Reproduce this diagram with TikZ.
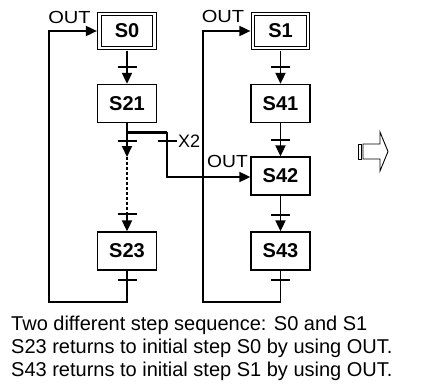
\documentclass[tikz,border=0pt]{standalone}
\usepackage{fontspec}
\usepackage{graphicx}
\setmainfont{Liberation Sans}
\usetikzlibrary{arrows.meta}
\begin{document}
\begin{tikzpicture}[x=1pt,y=-1pt,
  box/.style={draw, line width=1.3pt, minimum width=59pt, minimum height=38pt, inner sep=0pt,
    font=\fontsize{20}{24}\selectfont\bfseries},
  initbox/.style={draw, line width=1.2pt, double, double distance=2.5pt, minimum width=55pt,
    minimum height=34pt, inner sep=0pt, outer sep=2.6pt, font=\fontsize{20}{24}\selectfont\bfseries},
  conn/.style={line width=1.8pt},
  arr/.style={conn, -{Triangle[length=11pt,width=10pt]}},
  tk/.style={line width=1.8pt},
  dotline/.style={line width=1.8pt, dash pattern=on 3pt off 2pt},
  lbl/.style={inner sep=0pt, font=\fontsize{17.5}{20}\selectfont},
  txt/.style={inner sep=0pt, anchor=base west, font=\fontsize{20}{23}\selectfont},
  sym/.style={line width=0.9pt},
]
\useasboundingbox (0,0) rectangle (428,388);

% boxes
\node[initbox] (S0) at (127,31) {S0};
\node[box] (S21) at (127,103.5) {S21};
\node[box] (S23) at (127,251) {S23};
\node[initbox] (S1) at (280.5,31) {S1};
\node[box] (S41) at (280.5,103.5) {S41};
\node[box] (S42) at (280.5,176) {S42};
\node[box] (S43) at (280.5,251) {S43};

% coordinates
\coordinate (t0) at (127,67);
\coordinate (t21) at (127,141);
\coordinate (b1) at (127,157);
\coordinate (b2) at (127,212);
\coordinate (t22) at (127,214);
\coordinate (t23) at (127,280);
\coordinate (j0) at (125.5,132);
\coordinate (j1) at (167,132);
\coordinate (j2) at (167,177);
\coordinate (tx2) at (167,141);
\coordinate (l0) at (127,302);
\coordinate (l1) at (49,302);
\coordinate (l2) at (49,31);
\coordinate (t1) at (280.5,67);
\coordinate (t41) at (280.5,140);
\coordinate (t42) at (280.5,215);
\coordinate (t43) at (280.5,280);
\coordinate (r0) at (280.5,302);
\coordinate (r1) at (203,302);
\coordinate (r2) at (203,31);

% left sequence
\draw[arr] (S0) -- (S21);
\draw[arr] (S21) -- (b1);
\draw[dotline] (b1) -- (b2);
\draw[arr] (b2) -- (S23);
\draw[line width=3pt] (j0) -- (j1);
\draw[arr] (j1) -- (j2) -- (S42.west |- j2);
\draw[arr] (S23) -- (l0) -- (l1) -- (l2) -- (S0);

% right sequence
\draw[arr] (S1) -- (S41);
\draw[arr] (S41) -- (S42);
\draw[arr] (S42) -- (S43);
\draw[arr] (S43) -- (r0) -- (r1) -- (r2) -- (S1);

% ticks
\foreach \t in {t0,t21,t22,t23,tx2,t1,t41,t42,t43}
  \draw[tk] ([xshift=-9.5pt]\t) -- ([xshift=9.5pt]\t);

% labels
\node[lbl] (out1) at (69.5,17) {\scalebox{1.15}[1]{OUT}};
\node[lbl] (out2) at (223,16.5) {\scalebox{1.15}[1]{OUT}};
\node[lbl] (out3) at (227.5,161.5) {\scalebox{1.1}[1]{OUT}};
\node[lbl, anchor=west, font=\fontsize{18}{20}\selectfont] (x2) at (178,141.5) {X2};

% hollow arrow symbol
\draw[sym] (358,144) rectangle (361.5,159);
\draw[sym] (363,144) -- (380,144) -- (380,132) -- (388,151.5) -- (380,171) -- (380,159) -- (363,159) -- cycle;

% caption
\node[txt] (c1) at (11,330.7) {Two different step sequence: S0 and S1};
\node[txt] (c2) at (11,353.3) {S23 returns to initial step S0 by using OUT.};
\node[txt] (c3) at (11,376) {S43 returns to initial step S1 by using OUT.};
\end{tikzpicture}
\end{document}
